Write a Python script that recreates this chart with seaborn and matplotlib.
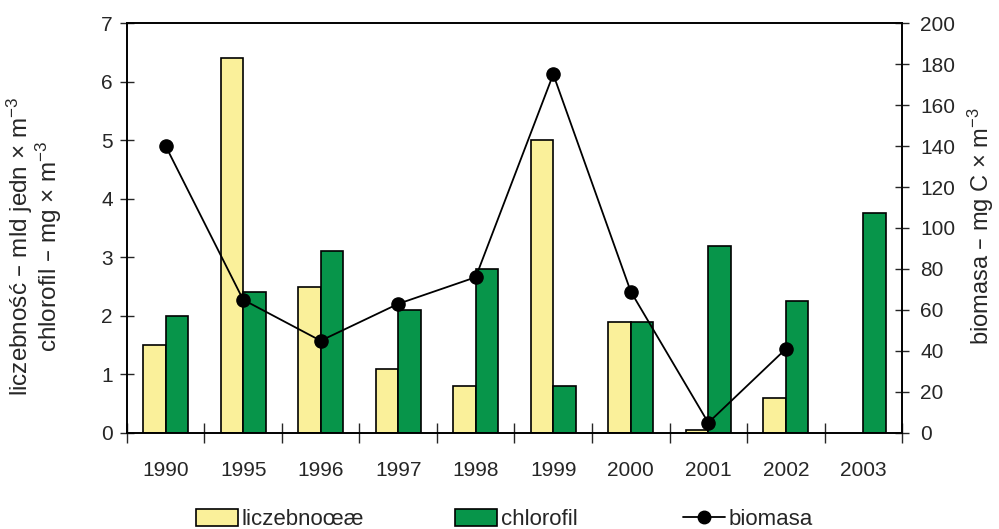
import matplotlib
matplotlib.use('Agg')
import matplotlib.pyplot as plt
import numpy as np
import pandas as pd
import seaborn as sns
from matplotlib.patches import Patch
from matplotlib.lines import Line2D

# values
years = ['1990', '1995', '1996', '1997', '1998', '1999', '2000', '2001', '2002', '2003']
liczebnosc = [1.5, 6.4, 2.5, 1.1, 0.8, 5.0, 1.9, 0.05, 0.6, np.nan]
chlorofil = [2.0, 2.4, 3.1, 2.1, 2.8, 0.8, 1.9, 3.2, 2.25, 3.75]
biomasa = [140, 65, 45, 63, 76, 175, 69, 5, 41, np.nan]

series_names = ['liczebnoœæ', 'chlorofil']
bar_colors = ['#FAF09A', '#07954A']

sns.set_style('white')
plt.rcParams['font.family'] = ['Liberation Sans', 'DejaVu Sans']
plt.rcParams['mathtext.default'] = 'regular'

df = pd.DataFrame({'rok': years, series_names[0]: liczebnosc, series_names[1]: chlorofil})
long_df = df.melt(id_vars='rok', var_name='seria', value_name='wartosc')
bio_df = pd.DataFrame({'rok': years, 'biomasa': biomasa})

fig = plt.figure(figsize=(9.99, 5.29), dpi=100)
ax = fig.add_axes([0.127, 0.1815, 0.776, 0.775])

sns.barplot(data=long_df, x='rok', y='wartosc', hue='seria', order=years,
            hue_order=series_names, palette=bar_colors, saturation=1,
            width=0.58, edgecolor='black', linewidth=1.2, legend=False, ax=ax)

ax2 = ax.twinx()
sns.pointplot(data=bio_df, x='rok', y='biomasa', order=years, color='black',
              errorbar=None, markersize=9.5, linewidth=1.3, ax=ax2)

ax.set_ylim(0, 7)
ax.set_yticks(range(0, 8))
ax2.set_ylim(0, 200)
ax2.set_yticks(range(0, 201, 20))
ax.set_xlim(-0.5, len(years) - 0.5)

ax.set_xlabel('')
ax.set_ylabel('')
ax2.set_ylabel('')

# category boundaries get the tick marks, labels sit in the middle
ax.set_xticks(np.arange(-0.5, len(years), 1), minor=True)
ax.tick_params(axis='x', which='major', bottom=True, length=0, pad=20, labelsize=15)
ax.tick_params(axis='x', which='minor', bottom=True, direction='inout', length=14, width=1)
ax.tick_params(axis='y', left=True, direction='inout', length=10, width=1, pad=5, labelsize=15)
ax2.tick_params(axis='y', right=True, direction='inout', length=10, width=1, pad=8, labelsize=15)

for a in (ax, ax2):
    for s in a.spines.values():
        s.set_visible(True)
        s.set_color('black')
        s.set_linewidth(1.2)

fig.text(0.034, 0.535, 'liczebność – mld jedn × m$^{-3}$\nchlorofil – mg × m$^{-3}$',
         rotation=90, ha='center', va='center', fontsize=17.5, linespacing=0.95)
fig.text(0.982, 0.573, 'biomasa – mg C × m$^{-3}$',
         rotation=90, ha='center', va='center', fontsize=17)

# three separate legend entries, placed like in the original
handles = [Patch(facecolor=bar_colors[0], edgecolor='black', linewidth=1.2),
           Patch(facecolor=bar_colors[1], edgecolor='black', linewidth=1.2),
           Line2D([], [], color='black', lw=1.3, marker='o', markersize=9)]
labels = series_names + ['biomasa']
leg_x = [196, 455, 683]
for h, lab, x in zip(handles, labels, leg_x):
    fig.legend([h], [lab], loc='center left', bbox_to_anchor=(x / 999, 0.018),
               frameon=False, fontsize=16, borderpad=0, borderaxespad=0,
               handlelength=1.9, handleheight=0.8, handletextpad=0.15)

fig.savefig('out.png', dpi=100)
